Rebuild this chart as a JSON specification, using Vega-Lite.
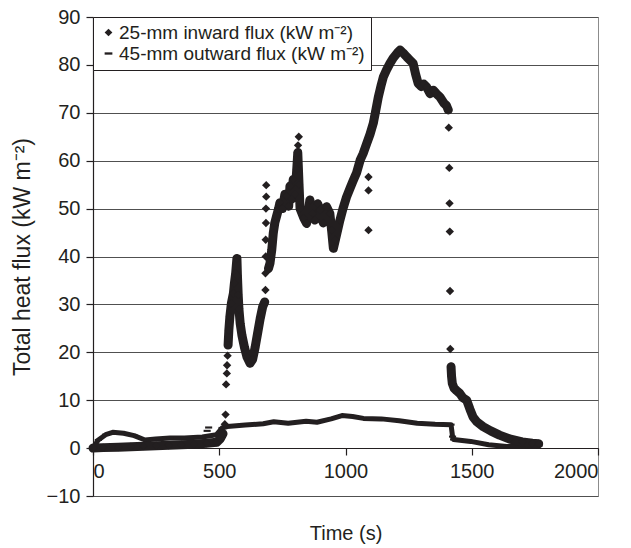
{
  "$schema": "https://vega.github.io/schema/vega-lite/v6.json",
  "width": 505,
  "height": 479,
  "autosize": {"type": "none"},
  "padding": {"left": 93, "top": 17, "right": 33, "bottom": 52},
  "background": "white",
  "config": {
    "font": "Liberation Sans",
    "view": {"stroke": "#8c8c8c", "strokeWidth": 1},
    "axis": {
      "labelFont": "Liberation Sans",
      "titleFont": "Liberation Sans",
      "labelFontSize": 20,
      "titleFontSize": 20,
      "titleFontWeight": "normal",
      "labelColor": "#231f20",
      "titleColor": "#231f20",
      "domainColor": "#231f20",
      "tickColor": "#231f20",
      "tickSize": 7,
      "domainWidth": 1.2,
      "tickWidth": 1.2
    }
  },
  "datasets": {
    "inward": [
      {"t": 0, "v": 0, "seg": 1}, {"t": 40, "v": 0.1, "seg": 1}, {"t": 100, "v": 0.2, "seg": 1}, {"t": 150, "v": 0.3, "seg": 1},
      {"t": 200, "v": 0.4, "seg": 1}, {"t": 250, "v": 0.5, "seg": 1}, {"t": 300, "v": 0.6, "seg": 1}, {"t": 350, "v": 0.7, "seg": 1},
      {"t": 400, "v": 0.8, "seg": 1}, {"t": 450, "v": 1.0, "seg": 1}, {"t": 490, "v": 1.2, "seg": 1}, {"t": 505, "v": 2.0, "seg": 1},
      {"t": 515, "v": 3.0, "seg": 1},
      {"t": 522, "v": 5.0, "seg": 0}, {"t": 525, "v": 7.0, "seg": 0}, {"t": 527, "v": 13.3, "seg": 0}, {"t": 530, "v": 15.6, "seg": 0},
      {"t": 531, "v": 17.3, "seg": 0}, {"t": 533, "v": 19.3, "seg": 0},
      {"t": 535, "v": 21.5, "seg": 2}, {"t": 538, "v": 24.6, "seg": 2}, {"t": 542, "v": 27.4, "seg": 2}, {"t": 548, "v": 30.2, "seg": 2},
      {"t": 556, "v": 32.3, "seg": 2}, {"t": 560, "v": 34.4, "seg": 2}, {"t": 565, "v": 36.5, "seg": 2}, {"t": 570, "v": 39.6, "seg": 2},
      {"t": 572, "v": 36, "seg": 2}, {"t": 575, "v": 32, "seg": 2}, {"t": 578, "v": 29, "seg": 2}, {"t": 583, "v": 26, "seg": 2},
      {"t": 590, "v": 23.5, "seg": 2}, {"t": 600, "v": 21, "seg": 2}, {"t": 610, "v": 19, "seg": 2}, {"t": 622, "v": 17.7, "seg": 2},
      {"t": 632, "v": 18.5, "seg": 2}, {"t": 642, "v": 21, "seg": 2}, {"t": 652, "v": 24, "seg": 2}, {"t": 662, "v": 27, "seg": 2},
      {"t": 672, "v": 29.5, "seg": 2}, {"t": 680, "v": 30.5, "seg": 2},
      {"t": 683, "v": 33, "seg": 0}, {"t": 683, "v": 36.5, "seg": 0}, {"t": 684, "v": 40, "seg": 0}, {"t": 684, "v": 43.5, "seg": 0},
      {"t": 685, "v": 47, "seg": 0}, {"t": 685, "v": 50, "seg": 0}, {"t": 686, "v": 52.5, "seg": 0}, {"t": 686, "v": 54.9, "seg": 0},
      {"t": 695, "v": 37.5, "seg": 3}, {"t": 701, "v": 38.6, "seg": 3}, {"t": 708, "v": 41.4, "seg": 3}, {"t": 714, "v": 44.9, "seg": 3},
      {"t": 720, "v": 47, "seg": 3}, {"t": 727, "v": 48.4, "seg": 3}, {"t": 735, "v": 50, "seg": 3}, {"t": 740, "v": 51.2, "seg": 3},
      {"t": 750, "v": 50, "seg": 3}, {"t": 760, "v": 53, "seg": 3}, {"t": 767, "v": 52.6, "seg": 3}, {"t": 775, "v": 50.5, "seg": 3},
      {"t": 780, "v": 54.7, "seg": 3}, {"t": 787, "v": 52, "seg": 3}, {"t": 793, "v": 56.1, "seg": 3}, {"t": 800, "v": 53, "seg": 3},
      {"t": 807, "v": 58.2, "seg": 3}, {"t": 811, "v": 61.7, "seg": 3}, {"t": 816, "v": 55, "seg": 3}, {"t": 820, "v": 50, "seg": 3},
      {"t": 835, "v": 48, "seg": 3}, {"t": 846, "v": 46.9, "seg": 3}, {"t": 859, "v": 51.8, "seg": 3}, {"t": 870, "v": 49, "seg": 3},
      {"t": 879, "v": 47.6, "seg": 3}, {"t": 890, "v": 51, "seg": 3}, {"t": 899, "v": 49.7, "seg": 3}, {"t": 912, "v": 47, "seg": 3},
      {"t": 925, "v": 50.4, "seg": 3}, {"t": 938, "v": 49, "seg": 3}, {"t": 945, "v": 45.5, "seg": 3}, {"t": 952, "v": 41.7, "seg": 3},
      {"t": 960, "v": 43.5, "seg": 3}, {"t": 978, "v": 47.6, "seg": 3}, {"t": 990, "v": 50, "seg": 3}, {"t": 1004, "v": 52.4, "seg": 3},
      {"t": 1020, "v": 54.5, "seg": 3}, {"t": 1031, "v": 55.9, "seg": 3}, {"t": 1044, "v": 57.5, "seg": 3}, {"t": 1058, "v": 60.1, "seg": 3},
      {"t": 1070, "v": 61.5, "seg": 3}, {"t": 1084, "v": 63.6, "seg": 3}, {"t": 1097, "v": 65.5, "seg": 3}, {"t": 1110, "v": 67.8, "seg": 3},
      {"t": 1120, "v": 70.5, "seg": 3}, {"t": 1130, "v": 73.3, "seg": 3}, {"t": 1140, "v": 75.5, "seg": 3}, {"t": 1150, "v": 77.5, "seg": 3},
      {"t": 1163, "v": 79, "seg": 3}, {"t": 1176, "v": 80.3, "seg": 3}, {"t": 1190, "v": 81.5, "seg": 3}, {"t": 1205, "v": 82.5, "seg": 3},
      {"t": 1216, "v": 83.1, "seg": 3}, {"t": 1228, "v": 82.5, "seg": 3}, {"t": 1242, "v": 81.7, "seg": 3}, {"t": 1255, "v": 81, "seg": 3},
      {"t": 1268, "v": 80.3, "seg": 3}, {"t": 1278, "v": 78, "seg": 3}, {"t": 1288, "v": 76.1, "seg": 3}, {"t": 1300, "v": 75.5, "seg": 3},
      {"t": 1310, "v": 76, "seg": 3}, {"t": 1321, "v": 75.4, "seg": 3}, {"t": 1335, "v": 74, "seg": 3}, {"t": 1348, "v": 74.7, "seg": 3},
      {"t": 1360, "v": 74, "seg": 3}, {"t": 1374, "v": 73.3, "seg": 3}, {"t": 1390, "v": 72, "seg": 3}, {"t": 1400, "v": 71.5, "seg": 3},
      {"t": 1407, "v": 70.6, "seg": 3},
      {"t": 812, "v": 63.2, "seg": 0}, {"t": 815, "v": 65, "seg": 0},
      {"t": 1091, "v": 56.6, "seg": 0}, {"t": 1091, "v": 53.8, "seg": 0}, {"t": 1091, "v": 45.5, "seg": 0},
      {"t": 1409, "v": 66.9, "seg": 0}, {"t": 1411, "v": 58.5, "seg": 0}, {"t": 1412, "v": 51.1, "seg": 0}, {"t": 1413, "v": 45.2, "seg": 0},
      {"t": 1414, "v": 32.8, "seg": 0}, {"t": 1415, "v": 20.7, "seg": 0},
      {"t": 1418, "v": 17.0, "seg": 4}, {"t": 1420, "v": 15.0, "seg": 4}, {"t": 1423, "v": 13.5, "seg": 4}, {"t": 1430, "v": 12.5, "seg": 4},
      {"t": 1440, "v": 12.0, "seg": 4}, {"t": 1453, "v": 11.4, "seg": 4}, {"t": 1465, "v": 10.5, "seg": 4}, {"t": 1480, "v": 10.0, "seg": 4},
      {"t": 1493, "v": 8.1, "seg": 4}, {"t": 1505, "v": 6.5, "seg": 4}, {"t": 1520, "v": 5.5, "seg": 4}, {"t": 1545, "v": 4.5, "seg": 4},
      {"t": 1575, "v": 3.6, "seg": 4}, {"t": 1610, "v": 2.7, "seg": 4}, {"t": 1650, "v": 1.9, "seg": 4}, {"t": 1700, "v": 1.3, "seg": 4},
      {"t": 1740, "v": 1.0, "seg": 4}, {"t": 1765, "v": 0.9, "seg": 4}
    ],
    "outward": [
      {"t": 0, "v": 0, "seg": 1}, {"t": 21, "v": 1.7, "seg": 1}, {"t": 50, "v": 2.8, "seg": 1}, {"t": 78, "v": 3.3, "seg": 1},
      {"t": 121, "v": 3.1, "seg": 1}, {"t": 163, "v": 2.6, "seg": 1}, {"t": 206, "v": 1.7, "seg": 1}, {"t": 248, "v": 1.9, "seg": 1},
      {"t": 305, "v": 2.1, "seg": 1}, {"t": 362, "v": 2.1, "seg": 1}, {"t": 433, "v": 2.3, "seg": 1}, {"t": 489, "v": 2.8, "seg": 1},
      {"t": 511, "v": 4.2, "seg": 1}, {"t": 532, "v": 4.5, "seg": 1}, {"t": 603, "v": 4.8, "seg": 1}, {"t": 674, "v": 5.1, "seg": 1},
      {"t": 716, "v": 5.5, "seg": 1}, {"t": 773, "v": 5.2, "seg": 1}, {"t": 844, "v": 5.6, "seg": 1}, {"t": 887, "v": 5.4, "seg": 1},
      {"t": 943, "v": 6.1, "seg": 1}, {"t": 986, "v": 6.8, "seg": 1}, {"t": 1028, "v": 6.6, "seg": 1}, {"t": 1071, "v": 6.2, "seg": 1},
      {"t": 1142, "v": 6.1, "seg": 1}, {"t": 1213, "v": 5.7, "seg": 1}, {"t": 1284, "v": 5.2, "seg": 1}, {"t": 1355, "v": 5.0, "seg": 1},
      {"t": 1418, "v": 4.9, "seg": 1}, {"t": 1424, "v": 2.4, "seg": 1}, {"t": 1428, "v": 1.8, "seg": 1}, {"t": 1496, "v": 1.4, "seg": 1},
      {"t": 1567, "v": 0.7, "seg": 1}, {"t": 1638, "v": 0.35, "seg": 1}, {"t": 1709, "v": 0.35, "seg": 1}, {"t": 1766, "v": 0.5, "seg": 1},
      {"t": 452, "v": 3.6, "seg": 0}, {"t": 458, "v": 4.3, "seg": 0}
    ]
  },
  "encoding": {
    "x": {
      "field": "t", "type": "quantitative",
      "scale": {"domain": [0, 2000], "nice": false, "zero": false},
      "axis": {"values": [0, 500, 1000, 1500, 2000], "format": "d", "grid": false, "offset": -48, "labelPadding": 6, "title": "Time (s)", "titlePadding": 42}
    },
    "y": {
      "field": "v", "type": "quantitative",
      "scale": {"domain": [-10, 90], "nice": false, "zero": false},
      "axis": {"values": [-10, 0, 10, 20, 30, 40, 50, 60, 70, 80, 90], "grid": true, "gridColor": "#505050", "gridWidth": 1, "labelPadding": 6, "title": "Total heat flux (kW m⁻²)", "titleFontSize": 23, "titlePadding": 12}
    }
  },
  "layer": [
    {
      "data": {"name": "outward"},
      "transform": [{"filter": "datum.seg > 0"}],
      "mark": {"type": "line", "color": "#231f20", "strokeWidth": 5, "strokeJoin": "round", "strokeCap": "round"},
      "encoding": {"detail": {"field": "seg", "type": "nominal"}}
    },
    {
      "data": {"name": "outward"},
      "mark": {"type": "point", "filled": true, "color": "#231f20", "opacity": 1, "size": 50},
      "encoding": {
        "shape": {
          "datum": "45-mm outward flux (kW m⁻²)", "type": "nominal",
          "scale": {"domain": ["25-mm inward flux (kW m⁻²)", "45-mm outward flux (kW m⁻²)"], "range": ["diamond", "M-1,-0.3L1,-0.3L1,0.3L-1,0.3Z"]},
          "legend": {
            "title": null, "orient": "top-left", "offset": 0, "padding": 6,
            "strokeColor": "#231f20", "fillColor": "white", "cornerRadius": 0,
            "labelFontSize": 19, "labelFont": "Liberation Sans", "labelColor": "#231f20", "labelLimit": 0,
            "labelOffset": 1, "rowPadding": 1, "symbolSize": 60,
            "symbolFillColor": "#231f20", "symbolStrokeColor": "#231f20", "symbolStrokeWidth": 0, "symbolOpacity": 1
          }
        }
      }
    },
    {
      "data": {"name": "inward"},
      "transform": [{"filter": "datum.seg > 0"}],
      "mark": {"type": "line", "color": "#231f20", "strokeWidth": 9, "strokeJoin": "round", "strokeCap": "round"},
      "encoding": {"detail": {"field": "seg", "type": "nominal"}}
    },
    {
      "data": {"name": "inward"},
      "mark": {"type": "point", "filled": true, "color": "#231f20", "opacity": 1, "size": 70},
      "encoding": {
        "shape": {
          "datum": "25-mm inward flux (kW m⁻²)", "type": "nominal",
          "scale": {"domain": ["25-mm inward flux (kW m⁻²)", "45-mm outward flux (kW m⁻²)"], "range": ["diamond", "M-1,-0.3L1,-0.3L1,0.3L-1,0.3Z"]}
        }
      }
    }
  ]
}
